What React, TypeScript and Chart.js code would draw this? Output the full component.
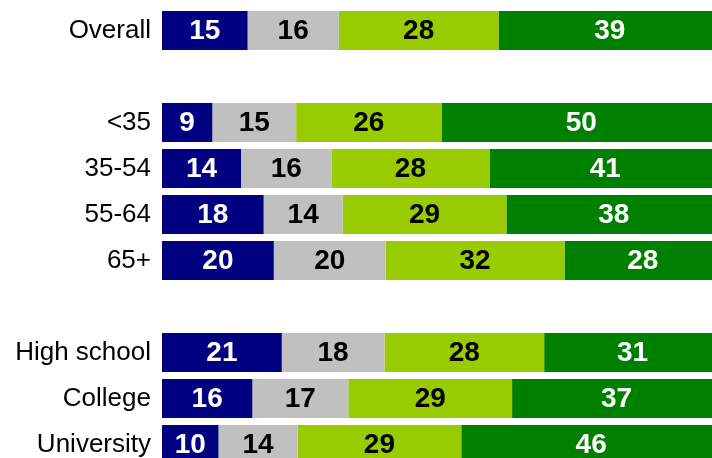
import React, { useEffect, useRef } from "react";
import { Chart, registerables } from "chart.js";

Chart.register(...registerables);

const categories = ["Overall", "", "<35", "35-54", "55-64", "65+", "", "High school", "College", "University"];
const series1 = [15, null, 9, 14, 18, 20, null, 21, 16, 10];
const series2 = [16, null, 15, 16, 14, 20, null, 18, 17, 14];
const series3 = [28, null, 26, 28, 29, 32, null, 28, 29, 29];
const series4 = [39, null, 50, 41, 38, 28, null, 31, 37, 46];
const colors = ["#000080", "#C0C0C0", "#99CC00", "#008000"];
const labelColors = ["#FFFFFF", "#000000", "#000000", "#FFFFFF"];

const FONT = '"Liberation Sans", Arial, sans-serif';

export default function App() {
  const ref = useRef<HTMLCanvasElement | null>(null);

  useEffect(() => {
    if (!ref.current) return;
    const raw = [series1, series2, series3, series4];
    const totals = categories.map((_, i) =>
      raw.reduce((s, arr) => s + (arr[i] == null ? 0 : (arr[i] as number)), 0)
    );
    const datasets = raw.map((arr, k) => ({
      label: "s" + (k + 1),
      data: arr.map((v, i) => (v == null ? null : (v / totals[i]) * 100)),
      raw: arr,
      backgroundColor: colors[k],
      borderWidth: 0,
      barPercentage: 0.85,
      categoryPercentage: 1,
    }));

    const valueLabels = {
      id: "valueLabels",
      afterDatasetsDraw(chart: any) {
        const ctx = chart.ctx;
        ctx.save();
        ctx.font = `bold 28px ${FONT}`;
        ctx.textAlign = "center";
        ctx.textBaseline = "middle";
        chart.data.datasets.forEach((ds: any, k: number) => {
          const meta = chart.getDatasetMeta(k);
          meta.data.forEach((bar: any, i: number) => {
            const v = ds.raw[i];
            if (v == null) return;
            const cx = (bar.x + bar.base) / 2;
            ctx.fillStyle = labelColors[k];
            ctx.fillText(String(v), cx, bar.y + 1);
          });
        });
        ctx.restore();
      },
    };

    const chart = new Chart(ref.current, {
      type: "bar",
      data: { labels: categories, datasets: datasets as any },
      options: {
        indexAxis: "y",
        responsive: false,
        animation: false,
        layout: { padding: { top: 7.5, bottom: 2.5, right: 9, left: 0 } },
        plugins: { legend: { display: false }, tooltip: { enabled: false } },
        scales: {
          x: { stacked: true, min: 0, max: 100, display: false },
          y: {
            stacked: true,
            grid: { display: false, drawTicks: false },
            border: { display: false },
            ticks: { padding: 11, color: "#000000", font: { family: FONT, size: 26 } },
            afterFit(scale: any) {
              scale.width = 162;
              scale.paddingTop = 0;
              scale.paddingBottom = 0;
            },
          },
        },
      },
      plugins: [valueLabels],
    });
    return () => chart.destroy();
  }, []);

  return (
    <div style={{ position: "fixed", left: 0, top: 0, width: 712, height: 458, overflow: "hidden", background: "#fff" }}>
      <canvas ref={ref} width={730} height={470} style={{ display: "block" }} />
    </div>
  );
}
